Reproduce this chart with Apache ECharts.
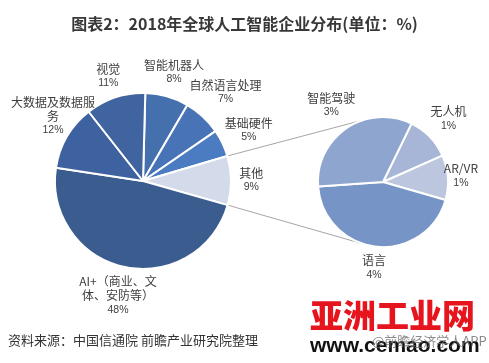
<!DOCTYPE html>
<html><head><meta charset="utf-8">
<script src="https://cdn.jsdelivr.net/npm/echarts@6/dist/echarts.min.js"></script>
<style>html,body{margin:0;padding:0;background:#fff}#c{width:489px;height:363px}</style>
</head><body><div id="c"></div>
<script>
// ---- data ----
const mainNames = ['智能机器人', '自然语言处理', '基础硬件', '其他', 'AI+（商业、文体、安防等）', '大数据及数据服务', '视觉'];
const mainValues = [8, 7, 5, 9, 48, 12, 11];
const subNames = ['无人机', 'AR/VR', '语言', '智能驾驶'];
const subValues = [1, 1, 4, 3];
const otherIndex = 3;

// ---- styles / layout ----
const mainColors = ['#4570ae', '#4874b7', '#4b7bc0', '#d3dbea', '#3b5c8f', '#3e61a0', '#3f64a0'];
const subColors = ['#a7b6d6', '#bcc7df', '#7695c6', '#8ea6cf'];
const W = 489, EDGE = 11;
const L = { cx: 143, cy: 181, r: 88, start: 88.5 };
const R = { cx: 383, cy: 182, r: 65, start: 64 };
const FONT = '"Noto Sans CJK SC", "Noto Sans", sans-serif';

function wrap(name) {
  const lines = [];
  let cur = '', line = 0;
  for (const ch of name) {
    const w = ch.charCodeAt(0) < 128 ? 0.55 : 1;
    if (line + w > 7.2) { lines.push(cur); cur = ''; line = 0; }
    cur += ch; line += w;
  }
  lines.push(cur);
  return lines;
}
function cumAngle(values, idx, start, half) {
  const tot = values.reduce((a, b) => a + b, 0);
  let cum = 0;
  for (let i = 0; i < idx; i++) cum += values[i];
  if (half) cum += values[idx] / 2;
  return (start - 360 * cum / tot) * Math.PI / 180;
}
function labelPos(geo, values, params) {
  const a = cumAngle(values, params.dataIndex, geo.start, true);
  const ux = Math.cos(a), uy = -Math.sin(a);
  const w = params.labelRect.width, h = params.labelRect.height;
  const ext = Math.abs(ux) * w / 2 + Math.abs(uy) * h / 2;
  const d = geo.r + 13 + 0.6 * ext;
  let x = geo.cx + ux * d;
  x = Math.max(EDGE + w / 2, Math.min(W - EDGE - w / 2, x));
  return { x: x, y: geo.cy + uy * d, align: 'center', verticalAlign: 'middle' };
}

// connector lines from the split slice edges to tangents of the secondary pie
function tangentPoint(px, py, c, upper) {
  const dx = px - c.cx, dy = py - c.cy;
  const d = Math.sqrt(dx * dx + dy * dy);
  const b = Math.atan2(dy, dx), g = Math.acos(c.r / d);
  const cands = [b + g, b - g].map(t => [c.cx + c.r * Math.cos(t), c.cy + c.r * Math.sin(t)]);
  cands.sort((p, q) => p[1] - q[1]);
  return upper ? cands[0] : cands[1];
}
const aTop = cumAngle(mainValues, otherIndex, L.start, false);
const aBot = cumAngle(mainValues, otherIndex + 1, L.start, false);
const pTop = [L.cx + L.r * Math.cos(aTop), L.cy - L.r * Math.sin(aTop)];
const pBot = [L.cx + L.r * Math.cos(aBot), L.cy - L.r * Math.sin(aBot)];
const tTop = tangentPoint(pTop[0], pTop[1], R, true);
const tBot = tangentPoint(pBot[0], pBot[1], R, false);

const labelStyle = {
  show: true, position: 'outside', color: '#404040', fontFamily: FONT,
  formatter: p => wrap(p.name).map(l => '{n|' + l + '}').join('\n') + '\n{v|' + p.value + '%}',
  rich: {
    n: { fontSize: 12, lineHeight: 14, color: '#404040', fontFamily: FONT, align: 'center' },
    v: { fontSize: 10.5, lineHeight: 14, color: '#404040', fontFamily: '"Liberation Sans", Arial, sans-serif', align: 'center' }
  }
};

const chart = echarts.init(document.getElementById('c'), null, { renderer: 'canvas' });
chart.setOption({
  backgroundColor: '#ffffff',
  animation: false,
  title: {
    text: '图表2：2018年全球人工智能企业分布(单位：%)', left: 'center', top: 11,
    textStyle: { fontSize: 16, fontWeight: 'bold', color: '#383838', fontFamily: FONT }
  },
  graphic: [
    { type: 'line', z: 1, shape: { x1: pTop[0], y1: pTop[1], x2: tTop[0], y2: tTop[1] }, style: { stroke: '#a6a6a6', lineWidth: 1 } },
    { type: 'line', z: 1, shape: { x1: pBot[0], y1: pBot[1], x2: tBot[0], y2: tBot[1] }, style: { stroke: '#a6a6a6', lineWidth: 1 } },
    { type: 'text', left: 8, top: 334, style: { text: '资料来源：中国信通院 前瞻产业研究院整理', fontSize: 13, fill: '#333', fontFamily: FONT } },
    { type: 'text', left: 310, top: 299, style: { text: '亚洲工业网', fontSize: 33, fontWeight: 900, fill: '#e5141d', fontFamily: FONT } },
    { type: 'text', left: 310, top: 336, style: { text: 'www.cemao.com', fontSize: 21, fontWeight: 'bold', fill: '#111', fontFamily: '"Liberation Sans", Arial, sans-serif' } },
    { type: 'text', left: 372, top: 335, style: { text: '@前瞻经济学人APP', fontSize: 13, fill: 'rgba(110,110,110,0.8)', fontFamily: FONT } }
  ],
  series: [
    {
      type: 'pie', center: [L.cx, L.cy], radius: [0, L.r], startAngle: L.start, clockwise: true,
      avoidLabelOverlap: false,
      itemStyle: { borderColor: '#fff', borderWidth: 2 },
      label: labelStyle, labelLine: { show: false },
      labelLayout: p => labelPos(L, mainValues, p),
      emphasis: { disabled: true },
      data: mainNames.map((n, i) => ({ name: n, value: mainValues[i], itemStyle: { color: mainColors[i] } }))
    },
    {
      type: 'pie', center: [R.cx, R.cy], radius: [0, R.r], startAngle: R.start, clockwise: true,
      avoidLabelOverlap: false,
      itemStyle: { borderColor: '#fff', borderWidth: 2 },
      label: labelStyle, labelLine: { show: false },
      labelLayout: p => labelPos(R, subValues, p),
      emphasis: { disabled: true },
      data: subNames.map((n, i) => ({ name: n, value: subValues[i], itemStyle: { color: subColors[i] } }))
    }
  ]
});
</script></body></html>
